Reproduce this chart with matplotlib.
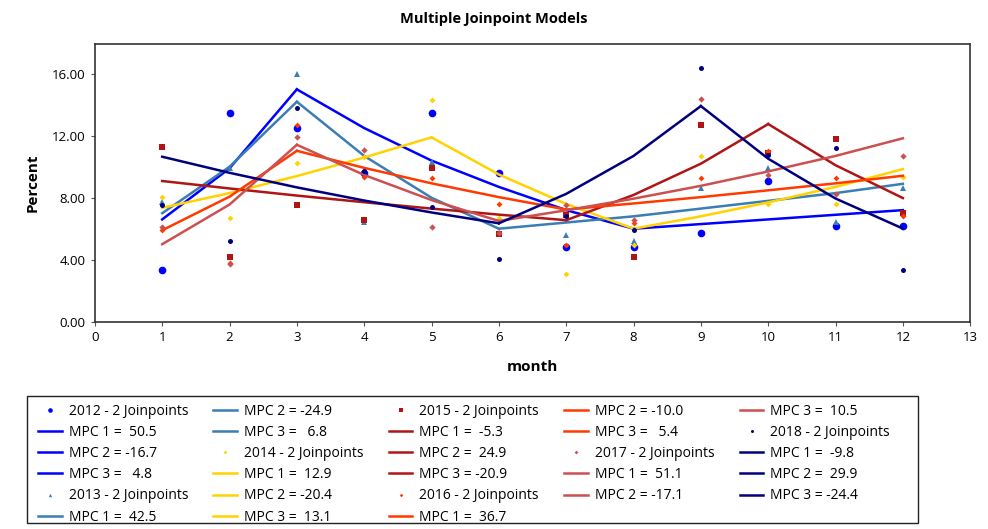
import matplotlib
matplotlib.use("Agg")
import matplotlib.pyplot as plt
from matplotlib.patches import Rectangle

plt.rcParams['font.family'] = ['Open Sans', 'DejaVu Sans']

months = list(range(1, 13))
years = ['2012', '2013', '2014', '2015', '2016', '2017', '2018']

# observed percents
obs_2012 = [3.33, 13.5, 12.5, 9.6, 13.5, 9.6, 4.8, 4.8, 5.7, 9.1, 6.2, 6.2]
obs_2013 = [7.7, 9.9, 16.0, 6.45, 10.3, 5.7, 5.6, 5.2, 8.6, 9.9, 6.45, 8.6]
obs_2014 = [8.06, 6.67, 10.26, 10.6, 14.3, 6.67, 3.1, 4.95, 10.7, 7.6, 7.6, 9.35]
obs_2015 = [11.3, 4.2, 7.5, 6.56, 9.9, 5.64, 6.9, 4.2, 12.7, 10.9, 11.8, 7.0]
obs_2016 = [5.9, 3.8, 12.7, 9.35, 9.3, 7.6, 4.95, 6.4, 9.3, 11.0, 9.3, 6.8]
obs_2017 = [6.1, 3.7, 11.9, 11.1, 6.1, 5.7, 7.5, 6.56, 14.4, 9.46, 8.24, 10.7]
obs_2018 = [7.5, 5.2, 13.8, 9.7, 7.4, 4.05, 6.8, 5.9, 16.4, 10.75, 11.2, 3.33]

# fitted (modeled) percents
fit_2012 = [6.6, 9.9, 15.0, 12.5, 10.4, 8.7, 7.2, 6.0, 6.3, 6.6, 6.9, 7.2]
fit_2013 = [7.0, 10.0, 14.2, 10.7, 8.0, 6.0, 6.4, 6.8, 7.3, 7.8, 8.3, 8.9]
fit_2014 = [7.35, 8.3, 9.4, 10.6, 11.9, 9.5, 7.6, 6.0, 6.8, 7.7, 8.7, 9.85]
fit_2015 = [9.08, 8.6, 8.14, 7.71, 7.3, 6.91, 6.55, 8.18, 10.2, 12.76, 10.1, 7.98]
fit_2016 = [5.9, 8.07, 11.03, 9.93, 8.93, 8.04, 7.24, 7.63, 8.04, 8.48, 8.93, 9.42]
fit_2017 = [5.0, 7.56, 11.42, 9.47, 7.85, 6.5, 7.19, 7.94, 8.77, 9.7, 10.7, 11.84]
fit_2018 = [10.65, 9.61, 8.67, 7.82, 7.05, 6.35, 8.25, 10.7, 13.92, 10.52, 7.95, 6.01]

# joinpoint months for each year
joins_2012 = [3, 8]
joins_2013 = [3, 6]
joins_2014 = [5, 8]
joins_2015 = [7, 10]
joins_2016 = [3, 7]
joins_2017 = [3, 6]
joins_2018 = [6, 9]

mpc_2012 = [50.5, -16.7, 4.8]
mpc_2013 = [42.5, -24.9, 6.8]
mpc_2014 = [12.9, -20.4, 13.1]
mpc_2015 = [-5.3, 24.9, -20.9]
mpc_2016 = [36.7, -10.0, 5.4]
mpc_2017 = [51.1, -17.1, 10.5]
mpc_2018 = [-9.8, 29.9, -24.4]

obs = [obs_2012, obs_2013, obs_2014, obs_2015, obs_2016, obs_2017, obs_2018]
fits = [fit_2012, fit_2013, fit_2014, fit_2015, fit_2016, fit_2017, fit_2018]
joins = [joins_2012, joins_2013, joins_2014, joins_2015, joins_2016, joins_2017, joins_2018]
mpcs = [mpc_2012, mpc_2013, mpc_2014, mpc_2015, mpc_2016, mpc_2017, mpc_2018]

colors = ['#0000FF', '#3A7EB4', '#FFD200', '#B01515', '#FF3A00', '#CD5050', '#00007F']
markers = ['o', '^', 'D', 's', 'D', 'D', 'o']
msizes = [5.5, 4, 3, 4, 3, 3.2, 3.6]

fig = plt.figure(figsize=(9.88, 5.29), dpi=100)
ax = fig.add_axes([0.096, 0.392, 0.886, 0.524])

for k in range(len(years)):
    ax.plot(months, obs[k], linestyle='none', marker=markers[k], color=colors[k],
            markersize=msizes[k], markeredgewidth=0, label=years[k] + ' - 2 Joinpoints')
    bounds = [1] + joins[k] + [12]
    for s in range(3):
        a, b = bounds[s], bounds[s + 1]
        ax.plot(months[a - 1:b], fits[k][a - 1:b], color=colors[k], linewidth=1.8,
                label='MPC %d = %5.1f' % (s + 1, mpcs[k][s]))

ax.set_xlim(0, 13)
ax.set_ylim(0, 17.9)
ax.set_xticks(range(0, 14))
ax.set_yticks([0, 4, 8, 12, 16])
ax.set_yticklabels(['0.00', '4.00', '8.00', '12.00', '16.00'])
ax.tick_params(labelsize=9.5, length=3, color='#555555')
for sp in ax.spines.values():
    sp.set_linewidth(1.2)
    sp.set_color('#333333')

ax.set_xlabel('month', fontsize=11, fontweight='bold', labelpad=12)
ax.set_ylabel('Percent', fontsize=11, fontweight='bold', labelpad=9)
fig.suptitle('Multiple Joinpoint Models', x=0.5, y=0.978, fontsize=10.5, fontweight='bold')

# legend box drawn separately so the columns can sit left like the original
fig.patches.append(Rectangle((27 / 988, 6 / 529), 891 / 988, 127 / 529,
                             transform=fig.transFigure, fill=False,
                             edgecolor='#222222', linewidth=1.0))

handles, labels = ax.get_legend_handles_labels()
leg = fig.legend(handles, labels, ncol=5, loc='upper left',
                 bbox_to_anchor=(38 / 988, 0, 852 / 988, 1 - 404 / 529), mode='expand',
                 borderaxespad=0, borderpad=0, fontsize=10, frameon=False,
                 handlelength=1.7, handletextpad=0.5,
                 labelspacing=0.44, markerscale=0.6, numpoints=1)

fig.savefig('out.png', dpi=100)
